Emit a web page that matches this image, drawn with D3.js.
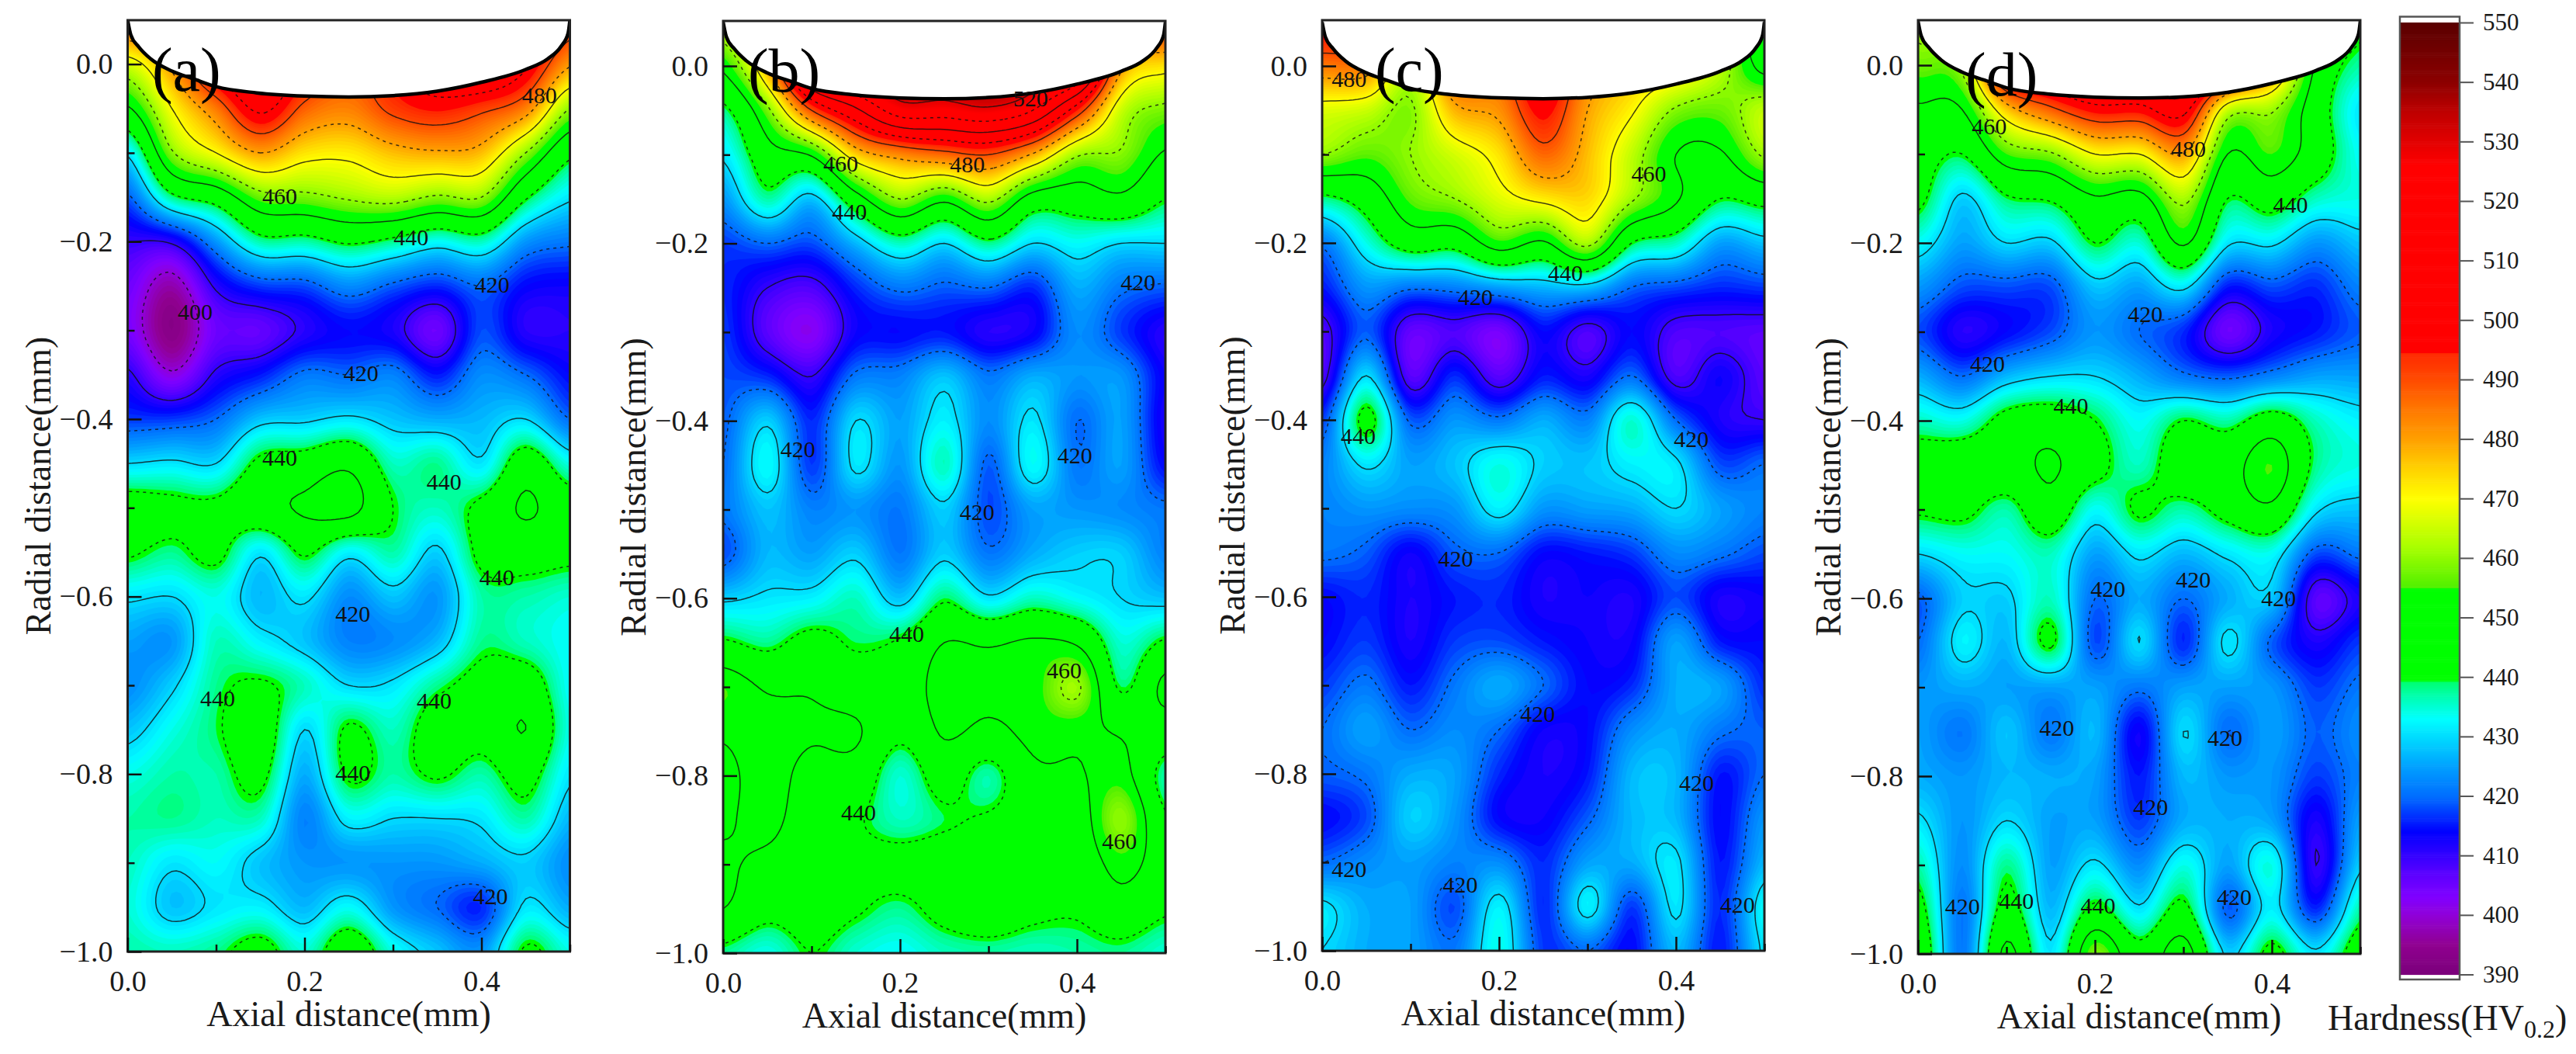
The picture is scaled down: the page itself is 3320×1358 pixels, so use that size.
<!DOCTYPE html>
<html lang="en">
<head>
<meta charset="utf-8">
<title>Hardness maps</title>
<script src="https://d3js.org/d3.v7.min.js"></script>
<style>
    html, body { margin: 0; background: #fff; }
    svg { display: block; font-family: "Liberation Serif", "Times New Roman", serif; }
    .tick text { fill: #1a1a1a; }
</style>
</head>
<body>
<svg id="chart" width="3320" height="1358"></svg>
<script>
// grid the maps were read on (mm)
const axialPoints = [0, 0.05, 0.1, 0.15, 0.2, 0.25, 0.3, 0.35, 0.4, 0.45, 0.5];
const radialPoints = [0.05, 0, -0.05, -0.1, -0.15, -0.2, -0.25, -0.3, -0.35, -0.4, -0.45, -0.5, -0.55, -0.6, -0.65, -0.7, -0.75, -0.8, -0.85, -0.9, -0.95, -1];

// hardness readings, one row per radial point, one column per axial point
const hardnessA = [
    [490,495,515,525,510,500,508,520,525,512,495],
    [466,482,505,515,500,490,498,510,515,502,481],
    [449,470,485,502,488,484,492,496,492,484,460],
    [431,459,470,480,473,472,477,479,477,460,442],
    [419,438,444,457,458,461,463,459,460,441,431],
    [410,411,424,437,437,441,438,433,436,424,421],
    [405,397,411,417,418,423,419,416,420,414,413],
    [404,393,405,406,411,414,412,405,418,411,411],
    [411,401,411,415,421,420,422,415,423,420,414],
    [417,417,420,428,429,431,428,426,427,430,420],
    [430,431,430,442,444,448,436,438,431,445,434],
    [444,442,442,447,451,453,440,436,442,451,444],
    [441,438,442,431,441,432,437,429,442,444,442],
    [431,430,434,427,431,423,428,424,437,437,435],
    [425,424,436,432,428,422,423,427,438,436,433],
    [423,429,438,441,436,430,431,438,443,445,433],
    [428,434,439,445,430,441,436,444,443,450,434],
    [434,437,437,442,426,441,437,441,437,443,431],
    [437,438,436,436,422,432,430,430,431,437,427],
    [436,431,433,428,424,424,424,424,426,429,423],
    [435,428,431,432,427,433,424,420,416,431,426],
    [437,436,438,443,435,446,434,428,424,441,434]
];
const hardnessB = [
    [465,490,545,550,550,550,555,550,545,495,495],
    [452,480,530,540,540,540,545,540,535,482,473],
    [438,458,490,508,525,525,528,520,495,465,458],
    [431,446,451,475,483,487,490,479,461,459,449],
    [424,437,428,446,460,452,462,446,445,448,440],
    [417,420,418,427,436,430,438,430,433,430,430],
    [416,410,408,416,421,419,420,416,426,421,419],
    [417,407,402,413,414,415,411,413,423,417,411],
    [418,416,410,421,422,428,421,426,424,424,413],
    [419,429,416,430,425,432,423,431,420,425,412],
    [420,433,417,431,424,436,419,433,421,425,414],
    [421,428,422,424,421,429,418,425,424,423,421],
    [418,427,425,429,421,429,421,426,429,429,422],
    [429,431,432,436,428,439,431,436,433,430,428],
    [441,438,443,439,441,450,449,451,449,435,441],
    [455,449,449,445,445,453,452,453,461,439,452],
    [451,453,451,451,442,451,448,452,452,449,445],
    [448,453,447,446,435,444,437,448,449,453,437],
    [449,452,445,441,436,439,441,444,445,460,441],
    [451,448,445,443,443,445,445,442,443,453,445],
    [450,443,445,441,438,443,446,442,441,446,441],
    [438,434,440,435,433,436,437,436,437,438,435]
];
const hardnessC = [
    [500,495,475,495,495,510,495,485,485,470,440],
    [485,484,465,490,488,505,485,478,475,464,447],
    [467,465,459,478,482,497,480,471,459,457,464],
    [460,456,460,466,473,487,477,464,450,449,461],
    [438,444,456,460,467,472,474,461,451,440,443],
    [421,434,444,443,454,449,462,440,436,425,428],
    [415,424,421,422,425,427,428,420,418,416,417],
    [408,419,406,408,404,414,408,414,408,408,407],
    [408,430,407,416,407,415,412,420,408,413,407],
    [417,442,419,424,421,426,422,435,420,412,410],
    [422,431,425,428,434,429,428,432,431,418,420],
    [422,424,423,424,432,424,425,426,430,425,422],
    [421,419,413,419,420,414,415,417,423,421,418],
    [414,416,412,415,416,412,413,412,418,412,413],
    [414,417,412,417,418,415,413,413,425,415,414],
    [417,421,415,421,426,420,414,416,426,425,416],
    [420,425,420,423,420,413,414,423,426,421,419],
    [419,421,426,425,416,412,415,427,427,415,420],
    [414,418,429,424,414,413,419,427,427,414,424],
    [420,423,425,422,423,416,425,426,431,415,427],
    [431,426,425,418,432,416,432,417,431,416,433],
    [430,426,425,421,434,417,420,414,427,415,431]
];
const hardnessD = [
    [462,470,525,525,530,530,535,520,495,455,442],
    [457,462,510,515,520,520,525,510,485,449,437],
    [449,450,476,488,497,497,503,465,461,445,431],
    [444,440,455,459,470,470,480,450,455,445,433],
    [442,429,439,441,449,447,462,440,444,436,434],
    [433,425,430,429,440,435,451,431,431,424,428],
    [424,418,418,418,428,425,431,415,418,416,422],
    [418,411,414,418,424,420,416,405,412,415,419],
    [426,420,427,430,430,426,421,419,422,425,425],
    [436,434,443,445,440,433,440,437,444,436,432],
    [444,446,446,451,443,436,446,446,455,438,434],
    [441,442,437,446,433,441,437,443,448,431,428],
    [430,433,433,436,425,431,427,431,433,418,421],
    [419,429,429,436,420,426,420,426,428,407,412],
    [420,432,427,441,418,430,416,431,419,412,417],
    [424,426,425,425,425,421,425,425,424,417,421],
    [425,421,428,421,427,413,430,420,425,419,423],
    [426,424,427,426,425,415,427,424,424,417,422],
    [431,424,430,425,425,417,426,426,425,412,425],
    [437,423,438,425,431,423,434,425,434,410,429],
    [443,421,443,427,442,431,442,419,432,416,437],
    [448,421,452,431,458,443,454,429,442,431,445]
];

// contour labels: axial, radial, level
const labelsA = [
    [0.4656,-0.035,480],[0.172,-0.149,460],[0.3205,-0.195,440],[0.412,-0.2486,420],
    [0.0763,-0.279,400],[0.2638,-0.3486,420],[0.172,-0.444,440],[0.3576,-0.471,440],
    [0.4174,-0.578,440],[0.2545,-0.6195,420],[0.1018,-0.715,440],[0.3464,-0.717,440],
    [0.2545,-0.799,440],[0.41,-0.938,420]
];
const labelsB = [
    [0.3475,-0.037,520],[0.1328,-0.11,460],[0.276,-0.1105,480],[0.1427,-0.164,440],
    [0.469,-0.244,420],[0.0845,-0.4324,420],[0.3976,-0.4387,420],[0.287,-0.503,420],
    [0.2075,-0.64,440],[0.3855,-0.681,460],[0.153,-0.8416,440],[0.448,-0.874,460]
];
const labelsC = [
    [0.0305,-0.0149,480],[0.3694,-0.1215,460],[0.2751,-0.2343,440],[0.1732,-0.2614,420],
    [0.0408,-0.4185,440],[0.4174,-0.422,420],[0.1508,-0.557,420],[0.2437,-0.7326,420],
    [0.4232,-0.8106,420],[0.0305,-0.908,420],[0.1562,-0.9257,420],[0.4695,-0.948,420]
];
const labelsD = [
    [0.0805,-0.0684,460],[0.3058,-0.0938,480],[0.4211,-0.157,440],[0.2567,-0.28,420],
    [0.0784,-0.336,420],[0.1728,-0.3836,440],[0.2148,-0.589,420],[0.3112,-0.5786,420],
    [0.4077,-0.6,420],[0.1569,-0.746,420],[0.3469,-0.757,420],[0.263,-0.8344,420],
    [0.0503,-0.9466,420],[0.1111,-0.9407,440],[0.2034,-0.9459,440],[0.3574,-0.9358,420]
];

// surface of the notch along the top of each map: axial, radial
const notchAxial = [0, 0.0036, 0.0125, 0.026, 0.05, 0.075, 0.1, 0.146, 0.2, 0.25, 0.3, 0.35, 0.4, 0.45, 0.475, 0.49, 0.498, 0.5];
const notchRadial = [0.0495, 0.033, 0.0195, 0.006, -0.0078, -0.0168, -0.0254, -0.0324, -0.036, -0.037, -0.0355, -0.0305, -0.0205, -0.006, 0.006, 0.02, 0.035, 0.0495];

// colour scale stops, with the jumps the legend shows
const colorValues = [390, 395, 400, 403, 407, 414, 420, 425, 430, 433, 437, 439.3, 439.4, 455, 455.1, 462, 470, 475, 480, 485, 490, 494.5, 494.6, 526, 535, 540, 550];
const colorNames = ["#7a007a", "#900090", "#9000d8", "#8000ff", "#5a00ff", "#0000ff", "#006eff", "#00a0ff", "#00dcff", "#00ffff", "#00ffaa", "#00ff6e", "#00ff00", "#00ff00", "#50f000", "#aaff00", "#ffff00", "#ffd200", "#ffa000", "#ff7800", "#ff4b00", "#ff2800", "#ff0000", "#ff0000", "#be0000", "#8c0000", "#5a0000"];

const xTicks = [0, 0.2, 0.4];
const xMinorTicks = [0.1, 0.3, 0.5];
const yTicks = [0, -0.2, -0.4, -0.6, -0.8, -1];
const yMinorTicks = [-0.1, -0.3, -0.5, -0.7, -0.9];
const legendTicks = [390, 400, 410, 420, 430, 440, 450, 460, 470, 480, 490, 500, 510, 520, 530, 540, 550];
const contourLevels = d3.range(400, 551, 10);

const panels = [
    { name: "(a)", data: hardnessA, labels: labelsA, left: 164.5, top: 26, y0: 82.6, bottom: 1226, nameAt: 0.0276, nameBase: 117 },
    { name: "(b)", data: hardnessB, labels: labelsB, left: 932, top: 27, y0: 85, bottom: 1228, nameAt: 0.028, nameBase: 118 },
    { name: "(c)", data: hardnessC, labels: labelsC, left: 1704, top: 26, y0: 85, bottom: 1225, nameAt: 0.0596, nameBase: 117 },
    { name: "(d)", data: hardnessD, labels: labelsD, left: 2472, top: 26, y0: 84, bottom: 1229, nameAt: 0.0535, nameBase: 123 }
];
const panelWidth = 570;
const upsample = 10;

const svg = d3.select("#chart");
const color = d3.scaleLinear().domain(colorValues).range(colorNames).clamp(true);

// Catmull-Rom weights for the display grid between the read points
function cubic(p0, p1, p2, p3, t) {
    return 0.5 * (2 * p1 + (p2 - p0) * t + (2 * p0 - 5 * p1 + 4 * p2 - p3) * t * t + (3 * p1 - p0 - 3 * p2 + p3) * t * t * t);
}

function refine(rows) {
    const nr = rows.length, nc = rows[0].length;
    const w = (nc - 1) * upsample + 1, h = (nr - 1) * upsample + 1;
    const out = new Float64Array(w * h);
    const at = (r, c) => rows[Math.max(0, Math.min(nr - 1, r))][Math.max(0, Math.min(nc - 1, c))];
    for (let j = 0; j < h; j++) {
        const r = Math.min(Math.floor(j / upsample), nr - 2), tr = j / upsample - r;
        for (let i = 0; i < w; i++) {
            const c = Math.min(Math.floor(i / upsample), nc - 2), tc = i / upsample - c;
            const col = [-1, 0, 1, 2].map(k => cubic(at(r + k, c - 1), at(r + k, c), at(r + k, c + 1), at(r + k, c + 2), tc));
            out[j * w + i] = cubic(col[0], col[1], col[2], col[3], tr);
        }
    }
    return { values: out, w, h };
}

panels.forEach((p, idx) => {
    const x = d3.scaleLinear().domain([0, 0.5]).range([p.left, p.left + panelWidth]);
    const y = d3.scaleLinear().domain([0, -1]).range([p.y0, p.bottom]);
    const g = svg.append("g");
    const clipId = "clip" + idx;

    svg.append("clipPath").attr("id", clipId).append("rect")
        .attr("x", x(0)).attr("y", p.top)
        .attr("width", panelWidth).attr("height", p.bottom - p.top);

    const grid = refine(p.data);
    const toScreen = d3.geoTransform({
        point(gx, gy) {
            const a = (gx - 0.5) / (grid.w - 1) * 0.5;
            const r = 0.05 - (gy - 0.5) / (grid.h - 1) * 1.05;
            this.stream.point(x(a), y(r));
        }
    });
    const path = d3.geoPath(toScreen);
    const contours = d3.contours().size([grid.w, grid.h]);

    const map = g.append("g").attr("clip-path", `url(#${clipId})`);

    // filled bands, one per HV, painted from the lowest up
    map.append("rect")
        .attr("x", x(0)).attr("y", p.top)
        .attr("width", panelWidth).attr("height", p.bottom - p.top)
        .attr("fill", color(390));
    const bands = d3.range(390, 552, 1);
    map.selectAll("path.band")
        .data(contours.thresholds(bands)(grid.values))
        .join("path")
        .attr("class", "band")
        .attr("d", path)
        .attr("fill", d => color(d.value + 0.5));

    // contour lines: labelled levels dashed, the ones between solid
    map.selectAll("path.level")
        .data(contours.thresholds(contourLevels)(grid.values))
        .join("path")
        .attr("class", "level")
        .attr("d", path)
        .attr("fill", "none")
        .attr("stroke", "#111")
        .attr("stroke-opacity", 0.8)
        .attr("stroke-width", 1.5)
        .attr("stroke-dasharray", d => d.value % 20 === 0 ? "4,5" : null);

    // white notch above the surface
    const notch = notchAxial.map((a, i) => [a, notchRadial[i]]);
    const area = d3.area().x(d => x(d[0])).y0(p.top).y1(d => y(d[1])).curve(d3.curveMonotoneX);
    const line = d3.line().x(d => x(d[0])).y(d => y(d[1])).curve(d3.curveMonotoneX);
    map.append("path").attr("d", area(notch)).attr("fill", "#fff");
    map.append("path").attr("d", line(notch)).attr("fill", "none").attr("stroke", "#000").attr("stroke-width", 4.5);

    // contour labels
    g.selectAll("text.level-label")
        .data(p.labels)
        .join("text")
        .attr("class", "level-label")
        .attr("x", d => x(d[0]))
        .attr("y", d => y(d[1]))
        .attr("dy", "0.34em")
        .attr("text-anchor", "middle")
        .attr("font-size", 30)
        .attr("fill", "#111")
        .text(d => d[2]);

    // frame
    g.append("rect")
        .attr("x", x(0)).attr("y", p.top)
        .attr("width", panelWidth).attr("height", p.bottom - p.top)
        .attr("fill", "none").attr("stroke", "#222").attr("stroke-width", 3);

    // axes, ticks point inward
    const fmt = d3.format(".1f");
    const xAxis = g.append("g").attr("transform", `translate(0,${p.bottom})`)
        .call(d3.axisBottom(x).tickValues(xTicks).tickSize(-18).tickPadding(24).tickFormat(fmt));
    const yAxis = g.append("g").attr("transform", `translate(${p.left},0)`)
        .call(d3.axisLeft(y).tickValues(yTicks).tickSize(-18).tickPadding(19).tickFormat(fmt));
    g.append("g").attr("transform", `translate(0,${p.bottom})`)
        .call(d3.axisBottom(x).tickValues(xMinorTicks).tickSize(-9).tickFormat(""));
    g.append("g").attr("transform", `translate(${p.left},0)`)
        .call(d3.axisLeft(y).tickValues(yMinorTicks).tickSize(-9).tickFormat(""));
    g.selectAll(".domain").remove();
    g.selectAll(".tick line").attr("stroke", "#111").attr("stroke-width", 2.5);
    xAxis.selectAll("text").attr("font-size", 38).attr("font-family", "Liberation Serif");
    yAxis.selectAll("text").attr("font-size", 38).attr("font-family", "Liberation Serif");

    // titles
    g.append("text")
        .attr("x", p.left + panelWidth / 2).attr("y", p.bottom + 96)
        .attr("text-anchor", "middle").attr("font-size", 46).attr("fill", "#1a1a1a")
        .text("Axial distance(mm)");
    g.append("text")
        .attr("transform", `translate(${p.left - 100},${(p.top + p.bottom) / 2}) rotate(-90)`)
        .attr("text-anchor", "middle").attr("font-size", 46).attr("fill", "#1a1a1a")
        .text("Radial distance(mm)");
    g.append("text")
        .attr("x", x(p.nameAt)).attr("y", p.nameBase)
        .attr("font-size", 80).attr("fill", "#000")
        .text(p.name);
});

// colour legend
const legendLeft = 3093, legendRight = 3170, legendTop = 21.5, legendBottom = 1262;
const legendY = d3.scaleLinear().domain([390, 550]).range([1255.5, 29]);
const legend = svg.append("g");
legend.append("rect")
    .attr("x", legendLeft).attr("y", legendTop)
    .attr("width", legendRight - legendLeft).attr("height", legendBottom - legendTop)
    .attr("fill", "#fff");
legend.selectAll("rect.step")
    .data(d3.range(390, 550, 0.25))
    .join("rect")
    .attr("class", "step")
    .attr("x", legendLeft)
    .attr("y", d => legendY(d + 0.25))
    .attr("width", legendRight - legendLeft)
    .attr("height", d => legendY(d) - legendY(d + 0.25) + 0.6)
    .attr("fill", d => color(d + 0.125));
legend.append("rect")
    .attr("x", legendLeft).attr("y", legendTop)
    .attr("width", legendRight - legendLeft).attr("height", legendBottom - legendTop)
    .attr("fill", "none").attr("stroke", "#555").attr("stroke-width", 2.5);
const legendAxis = legend.append("g").attr("transform", `translate(${legendRight},0)`)
    .call(d3.axisRight(legendY).tickValues(legendTicks).tickSize(18).tickPadding(12).tickFormat(d3.format("d")));
legendAxis.select(".domain").remove();
legendAxis.selectAll(".tick line").attr("stroke", "#555").attr("stroke-width", 2);
legendAxis.selectAll("text").attr("font-size", 31).attr("font-family", "Liberation Serif").attr("fill", "#333");

const legendTitle = svg.append("text").attr("x", 3000).attr("y", 1327).attr("font-size", 46).attr("fill", "#1a1a1a");
legendTitle.append("tspan").text("Hardness(HV");
legendTitle.append("tspan").attr("dy", 10).attr("font-size", 32).text("0.2");
legendTitle.append("tspan").attr("dy", -10).text(")");
</script>
</body>
</html>
